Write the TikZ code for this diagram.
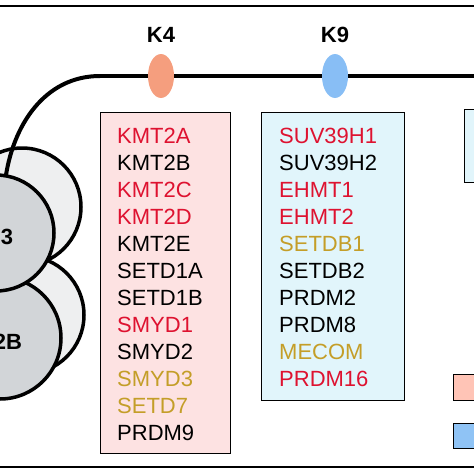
\documentclass[tikz,border=0pt]{standalone}
\usepackage{fontspec}
\setmainfont{Liberation Sans}
\usetikzlibrary{shapes.geometric}
\usetikzlibrary{positioning}
\usetikzlibrary{chains}
\definecolor{genered}{RGB}{222,18,48}
\definecolor{genegold}{RGB}{196,158,40}
\definecolor{kfourfill}{RGB}{253,226,226}
\definecolor{kninefill}{RGB}{225,245,251}
\definecolor{kfourmark}{RGB}{245,158,126}
\definecolor{kninemark}{RGB}{136,190,245}
\definecolor{kfourkey}{RGB}{255,196,182}
\definecolor{kninekey}{RGB}{143,195,245}
\definecolor{histback}{RGB}{238,239,240}
\definecolor{histfront}{RGB}{210,213,216}

\begin{document}
\begin{tikzpicture}[x=1pt,y=-1pt,
        node distance = 0pt,
        rule/.style = {line width=2.4pt},
        tail/.style = {line width=4pt},
        histone/.style = {draw,circle,line width=3.5pt,inner sep=0pt},
        histlabel/.style = {font=\bfseries\fontsize{22}{26}\selectfont},
        listbox/.style = {draw,line width=1.4pt,inner sep=0pt,anchor=north west},
        marker/.style = {ellipse,inner sep=0pt,minimum width=26pt,minimum height=44pt},
        marklabel/.style = {font=\bfseries\fontsize{22}{26}\selectfont,inner sep=0pt},
        gene/.style = {on chain,font=\fontsize{22}{26}\selectfont,inner sep=0pt,
            text height=16pt,text depth=10.6pt,text width=112pt,align=left}]
    \clip (0,0) rectangle (474,474);
    \useasboundingbox (0,0) rectangle (474,474);
    % frame lines
    \draw[rule] (0,6) -- (474,6);
    \draw[rule] (0,467) -- (474,467);
    % nucleosome
    \node[histone,fill=histback,minimum size=118pt] (h2bback) at (25,315) {};
    \node[histone,fill=histfront,minimum size=122pt] (h2bfront) at (0,338) {};
    \node[histone,fill=histback,minimum size=118pt] (h3back) at (22,207) {};
    \coordinate (tailstart) at (100,76);
    \coordinate (tailend) at (474,76);
    \draw[tail] (tailstart) .. controls (45,76) and (12,125) .. (5,182);
    \node[histone,fill=histfront,minimum size=116pt] (h3front) at (-4,233) {};
    \node[histlabel] (h3) at (-1,237) {H3};
    \node[histlabel] (h2b) at (0,342) {H2B};
    % tail with marks
    \draw[tail] (tailstart) -- (tailend);
    \node[marker,fill=kfourmark] (k4) at (161,76) {};
    \node[marker,fill=kninemark] (k9) at (335,76) {};
    \node[marklabel,above=11pt of k4] (k4label) {K4};
    \node[marklabel,above=11pt of k9] (k9label) {K9};
    % enzyme boxes
    \node[listbox,fill=kfourfill,minimum width=130pt,minimum height=341pt] (k4box) at (100,112) {};
    \node[listbox,fill=kninefill,minimum width=143pt,minimum height=288pt] (k9box) at (261,112) {};
    \node[listbox,fill=kninefill,minimum width=40pt,minimum height=73pt] (otherbox) at (464,109) {};
    % legend
    \node[listbox,fill=kfourkey,minimum width=40pt,minimum height=26pt] (key1) at (453,374) {};
    \node[listbox,fill=kninekey,minimum width=40pt,minimum height=25pt] (key2) at (453,423) {};
    % K4 enzymes
    \begin{scope}[start chain=k4genes going below]
        \node[gene,anchor=north west,text=genered] at ([xshift=17pt,yshift=-15pt]k4box.north west) {KMT2A};
        \node[gene] {KMT2B};
        \node[gene,text=genered] {KMT2C};
        \node[gene,text=genered] {KMT2D};
        \node[gene] {KMT2E};
        \node[gene] {SETD1A};
        \node[gene] {SETD1B};
        \node[gene,text=genered] {SMYD1};
        \node[gene] {SMYD2};
        \node[gene,text=genegold] {SMYD3};
        \node[gene,text=genegold] {SETD7};
        \node[gene] {PRDM9};
    \end{scope}
    % K9 enzymes
    \begin{scope}[start chain=k9genes going below]
        \node[gene,anchor=north west,text=genered] at ([xshift=18pt,yshift=-15pt]k9box.north west) {SUV39H1};
        \node[gene] {SUV39H2};
        \node[gene,text=genered] {EHMT1};
        \node[gene,text=genered] {EHMT2};
        \node[gene,text=genegold] {SETDB1};
        \node[gene] {SETDB2};
        \node[gene] {PRDM2};
        \node[gene] {PRDM8};
        \node[gene,text=genegold] {MECOM};
        \node[gene,text=genered] {PRDM16};
    \end{scope}
\end{tikzpicture}
\end{document}
